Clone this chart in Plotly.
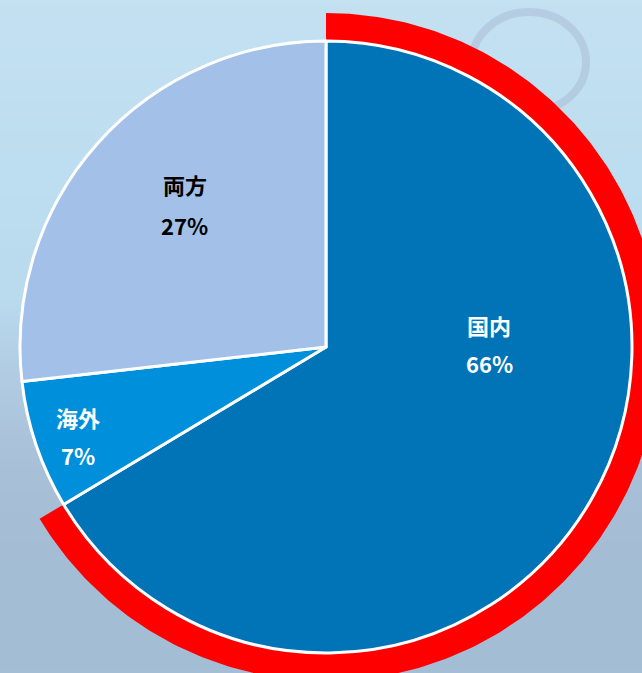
import zlib, struct, base64
import numpy as np
import plotly.graph_objects as go

# ---------------- data ----------------
labels = ["国内", "海外", "両方"]
values = [66.4, 6.8, 26.8]
pct_text = ["66%", "7%", "27%"]
highlight_label = "国内"

# ---------------- style ----------------
W, H = 642, 673
slice_colors = ["#0074B7", "#008FDA", "#A3C0E8"]
text_colors = ["white", "white", "black"]
FONT = "Noto Sans CJK JP, Noto Sans, sans-serif"

# pie geometry (pixels)
CX, CY, R = 326, 347, 306
RING_OUT = 334

# label positions (pixels): name line y, percent line y
label_pos = {"国内": (489, 325, 363), "海外": (78, 417, 455), "両方": (185, 184, 225)}


# ---------------- background gradient image ----------------
def png_uri(arr):
    h, w, _ = arr.shape
    raw = b"".join(b"\x00" + arr[i].astype(np.uint8).tobytes() for i in range(h))

    def chunk(t, d):
        c = struct.pack(">I", len(d)) + t + d
        return c + struct.pack(">I", zlib.crc32(t + d) & 0xFFFFFFFF)

    png = b"\x89PNG\r\n\x1a\n" + chunk(b"IHDR", struct.pack(">IIBBBBB", w, h, 8, 2, 0, 0, 0))
    png += chunk(b"IDAT", zlib.compress(raw)) + chunk(b"IEND", b"")
    return "data:image/png;base64," + base64.b64encode(png).decode()


stops_y = [0.0, 0.3, 0.45, 0.55, 0.7, 0.85, 1.0]
stops_c = [(196, 225, 242), (188, 222, 240), (186, 218, 238), (178, 205, 228),
           (168, 192, 216), (164, 189, 212), (163, 190, 213)]
gh, gw = 64, 16
img = np.zeros((gh, gw, 3))
ys = np.linspace(0, 1, gh)
for k in range(3):
    col = np.interp(ys, stops_y, [c[k] for c in stops_c])
    img[:, :, k] = col[:, None]
img = np.clip(img, 0, 255)
bg_uri = png_uri(img)

fig = go.Figure()

# ---------------- red highlight ring (from share of highlighted slice) ----------------
share = values[labels.index(highlight_label)] / sum(values)
theta = np.linspace(0, share * 2 * np.pi, 300)
r_in, r_out = 1.0, RING_OUT / R
xo, yo = r_out * np.sin(theta), r_out * np.cos(theta)
xi, yi = r_in * np.sin(theta[::-1]), r_in * np.cos(theta[::-1])
fig.add_trace(go.Scatter(
    x=np.concatenate([xo, xi, xo[:1]]), y=np.concatenate([yo, yi, yo[:1]]),
    mode="lines", fill="toself", fillcolor="#FF0000", line=dict(width=0, color="#FF0000"),
    hoverinfo="skip", showlegend=False))

# ---------------- pie ----------------
fig.add_trace(go.Pie(
    labels=labels, values=values, sort=False, direction="clockwise", rotation=0,
    marker=dict(colors=slice_colors, line=dict(color="white", width=3)),
    textinfo="none", showlegend=False,
    domain=dict(x=[(CX - R) / W, (CX + R) / W], y=[1 - (CY + R) / H, 1 - (CY - R) / H]),
))

# ---------------- labels ----------------
ann = []
for lab, pct, tc in zip(labels, pct_text, text_colors):
    px, y1, y2 = label_pos[lab]
    for txt, py in ((lab, y1), (pct, y2)):
        ann.append(dict(text=f"<b>{txt}</b>", x=px / W, y=1 - py / H, xref="paper", yref="paper",
                        showarrow=False, xanchor="center", yanchor="middle",
                        font=dict(family=FONT, size=22, color=tc)))

fig.update_layout(
    width=W, height=H, margin=dict(l=0, r=0, t=0, b=0),
    paper_bgcolor="#BBD8EC", plot_bgcolor="rgba(0,0,0,0)",
    xaxis=dict(range=[-CX / R, (W - CX) / R], visible=False, fixedrange=True),
    yaxis=dict(range=[(CY - H) / R, CY / R], visible=False, fixedrange=True),
    images=[dict(source=bg_uri, xref="paper", yref="paper", x=0, y=1, sizex=1, sizey=1,
                 sizing="stretch", layer="below", xanchor="left", yanchor="top")],
    shapes=[dict(type="circle", xref="paper", yref="paper", layer="below",
                 x0=472 / W, x1=586 / W, y0=1 - 112 / H, y1=1 - 12 / H,
                 line=dict(color="rgba(150,155,185,0.28)", width=8))],
    annotations=ann,
)

fig.write_html("out.html")
